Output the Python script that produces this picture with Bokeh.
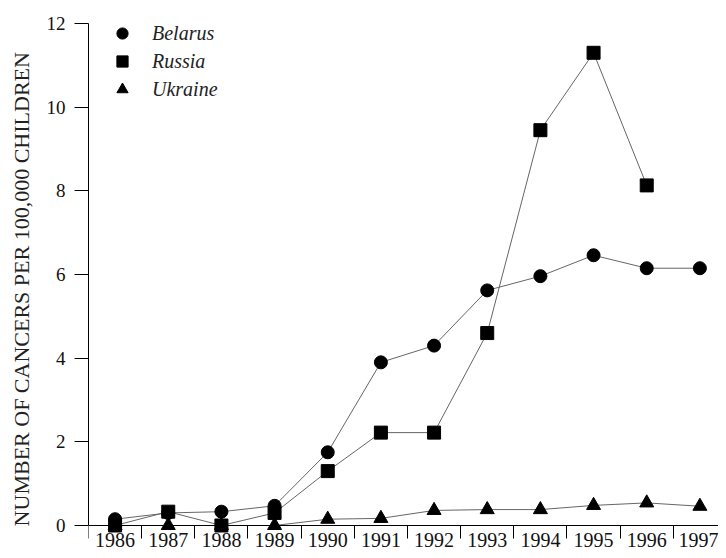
from bokeh.plotting import figure
from bokeh.models import Range1d, FixedTicker, Legend, LegendItem
from bokeh.embed import file_html
from bokeh.resources import INLINE

years = [1986, 1987, 1988, 1989, 1990, 1991, 1992, 1993, 1994, 1995, 1996, 1997]
belarus = [0.15, 0.30, 0.33, 0.47, 1.75, 3.90, 4.30, 5.62, 5.96, 6.46, 6.15, 6.15]
russia_years = [1986, 1987, 1988, 1989, 1990, 1991, 1992, 1993, 1994, 1995, 1996]
russia = [0.0, 0.33, 0.0, 0.30, 1.30, 2.22, 2.22, 4.60, 9.45, 11.30, 8.13]
ukraine = [0.0, 0.0, 0.0, 0.0, 0.15, 0.17, 0.36, 0.38, 0.38, 0.48, 0.54, 0.46]
y_ticks = [0, 2, 4, 6, 8, 10, 12]
y_label = "NUMBER  OF  CANCERS  PER  100,000  CHILDREN"

SERIF = "Liberation Serif"

p = figure(width=718, height=550, output_backend="svg", toolbar_location=None,
           x_range=Range1d(1985.5, 1997.35), y_range=Range1d(-0.598, 12.55),
           min_border_left=88, min_border_right=0, min_border_top=0, min_border_bottom=0,
           background_fill_color="white", border_fill_color="white")
p.grid.visible = False
p.outline_line_color = None

# x axis sits at y = 0
xa = p.xaxis[0]
xa.fixed_location = 0
xa.ticker = FixedTicker(ticks=years, minor_ticks=[y - 0.5 for y in years])
xa.bounds = (1985.5, 1997.35)
xa.major_tick_out = 0
xa.major_tick_in = 0
xa.minor_tick_out = 13
xa.minor_tick_in = 0
xa.minor_tick_line_color = "black"
xa.axis_line_color = "black"
xa.major_label_standoff = -5
xa.major_label_text_font = SERIF
xa.major_label_text_font_size = "20px"
xa.major_label_text_color = "#111111"

ya = p.yaxis[0]
ya.ticker = FixedTicker(ticks=y_ticks, minor_ticks=[])
ya.bounds = (0, 12)
ya.major_tick_out = 14
ya.major_tick_in = 0
ya.minor_tick_out = 0
ya.minor_tick_in = 0
ya.major_tick_line_color = "black"
ya.axis_line_color = "black"
ya.major_label_standoff = 9
ya.major_label_text_font = SERIF
ya.major_label_text_font_size = "19px"
ya.major_label_text_color = "#111111"
ya.axis_label = y_label
ya.axis_label_text_font = SERIF
ya.axis_label_text_font_size = "22px"
ya.axis_label_text_font_style = "normal"
ya.axis_label_text_color = "#222222"
ya.axis_label_standoff = 10

LINE = "#666666"
p.line(years, belarus, line_color=LINE, line_width=1)
p.line(russia_years, russia, line_color=LINE, line_width=1)
p.line(years, ukraine, line_color=LINE, line_width=1)

rb = p.scatter(years, belarus, marker="circle", size=13, color="black")
ru = p.scatter(years, ukraine, marker="triangle", size=14, color="black")
rr = p.scatter(russia_years, russia, marker="square", size=13, color="black")

legend = Legend(items=[LegendItem(label="Belarus", renderers=[rb]),
                       LegendItem(label="Russia", renderers=[rr]),
                       LegendItem(label="Ukraine", renderers=[ru])],
                location=(18, 447), margin=0, padding=0,
                glyph_width=32, glyph_height=28, spacing=0, label_height=28,
                label_standoff=14, border_line_color=None, background_fill_alpha=0,
                label_text_font=SERIF, label_text_font_size="20px",
                label_text_font_style="italic", label_text_color="#222222")
p.add_layout(legend)

open("out.html", "w").write(file_html(p, INLINE))
